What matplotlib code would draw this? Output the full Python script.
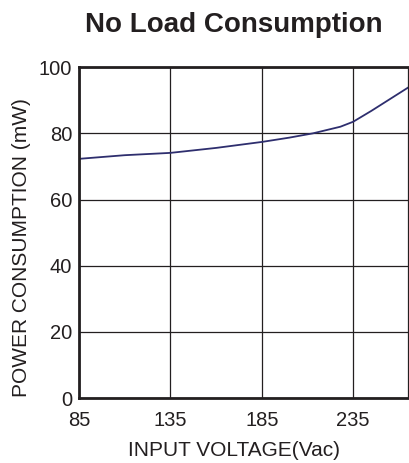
import matplotlib
matplotlib.use('Agg')
import matplotlib.pyplot as plt

plt.rcParams['font.family'] = ['Liberation Sans', 'DejaVu Sans']

voltage = [85, 110, 135, 160, 185, 200, 213, 228, 235, 245, 257, 265]
power = [72.3, 73.4, 74.1, 75.6, 77.4, 78.7, 80.0, 82.0, 83.5, 86.8, 91.0, 93.8]
xticks = [85, 135, 185, 235]
yticks = [0, 20, 40, 60, 80, 100]

txt = '#231f20'
fig = plt.figure(figsize=(4.1, 4.63), dpi=100)
ax = fig.add_axes([0.193, 0.14, 0.802, 0.715])
ax.plot(voltage, power, color='#2e2e6e', lw=1.3)
ax.set_xlim(85, 265)
ax.set_ylim(0, 100)
ax.set_xticks(xticks)
ax.set_yticks(yticks)
ax.grid(True, color=txt, lw=0.9)
ax.tick_params(length=0, labelsize=14.5, colors=txt)
ax.tick_params(axis='x', pad=9)
ax.tick_params(axis='y', pad=5)
for s in ['left', 'bottom', 'top']:
    ax.spines[s].set_linewidth(2)
    ax.spines[s].set_color(txt)
ax.spines['right'].set_linewidth(0.9)
ax.spines['right'].set_color(txt)
ax.set_xlabel('INPUT VOLTAGE(Vac)', fontsize=15, color=txt)
ax.xaxis.set_label_coords(0.47, -0.13)
ax.set_ylabel('POWER CONSUMPTION (mW)', fontsize=15, color=txt)
ax.yaxis.set_label_coords(-0.145, 0.455)
fig.suptitle('No Load Consumption', fontsize=20, fontweight='bold', color=txt,
             y=0.975, x=0.57)

fig.savefig('out.png', dpi=100)
